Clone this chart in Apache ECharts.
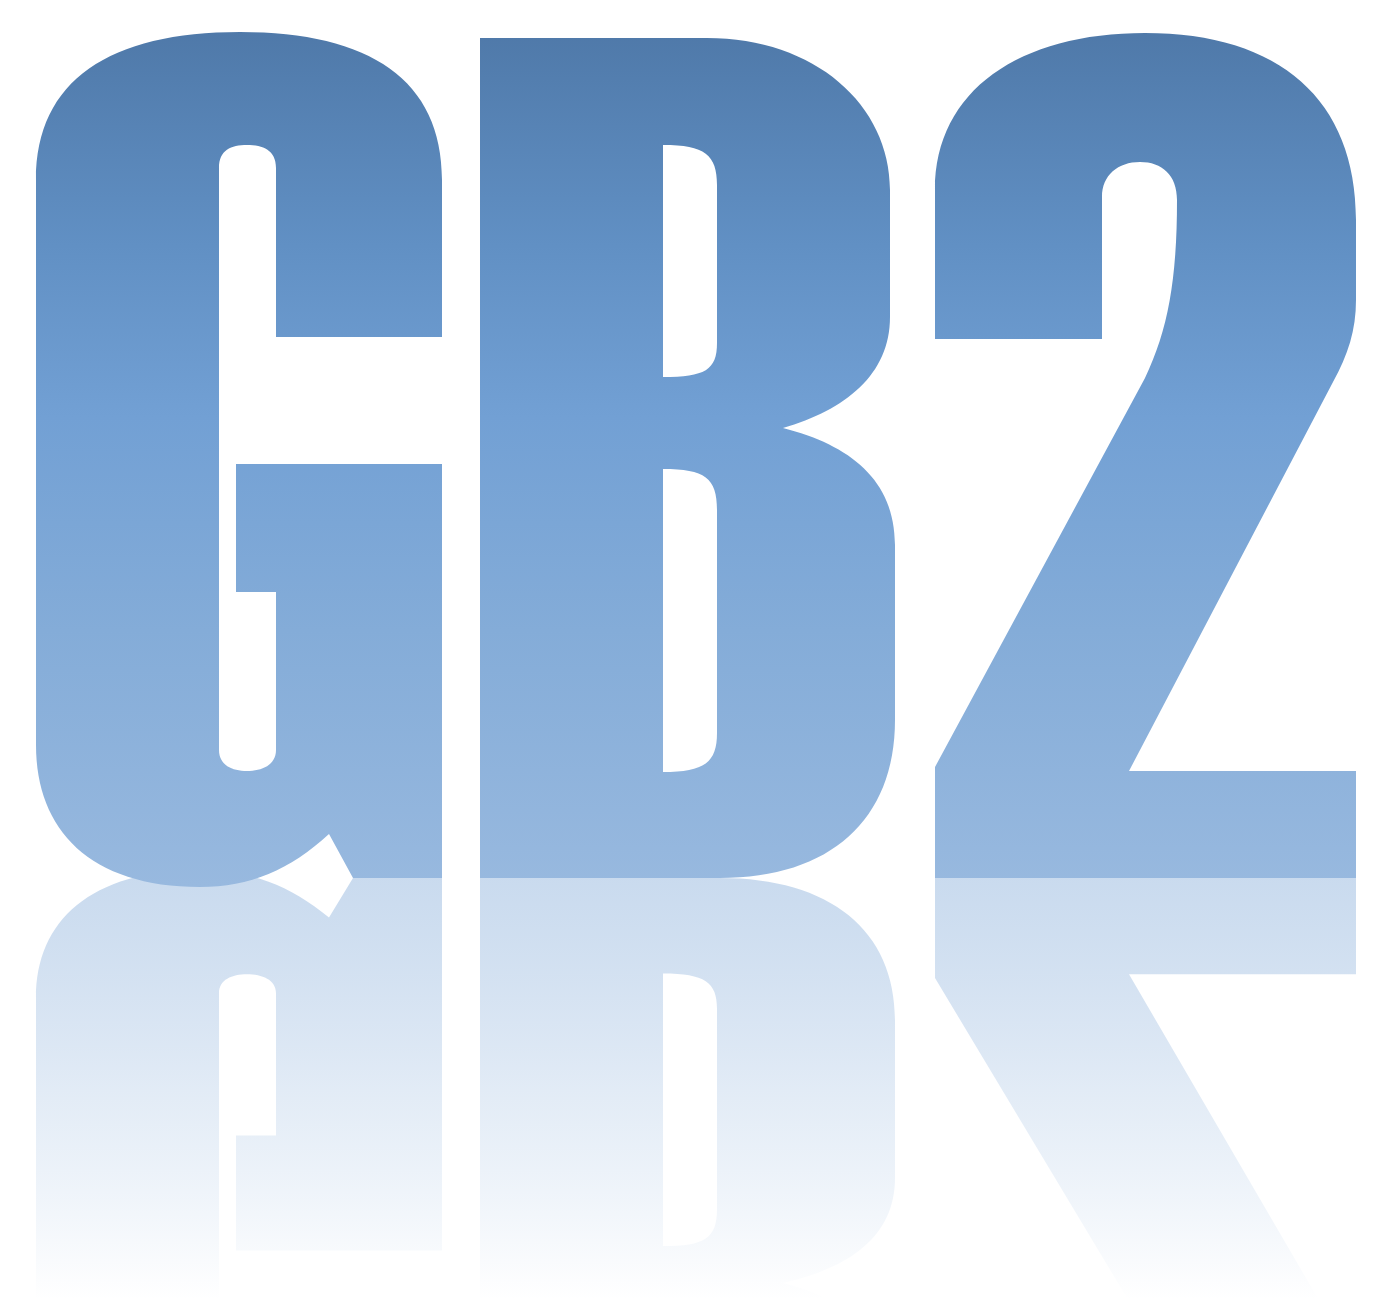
<!DOCTYPE html>
<html>
<head>
<meta charset="utf-8">
<title>GB2</title>
<script src="https://cdn.jsdelivr.net/npm/echarts@6.0.0/dist/echarts.min.js"></script>
<style>
  html, body {margin: 0; padding: 0; background: #ffffff;}
  #chart {width: 1394px; height: 1310px;}
</style>
</head>
<body>
<div id="chart"></div>
<script>
// letter outlines, in the chart's own x/y units (y grows downwards)
// [x, y] = line to, [c1x, c1y, c2x, c2y, x, y] = curve to, first item = move to
const gOutline = [
  [36, 745], [36, 180],
  [36, 80, 110, 32, 240, 32],
  [370, 32, 442, 80, 442, 180],
  [442, 337], [276, 337], [276, 168],
  [276, 150, 263, 145, 247, 145],
  [231, 145, 219, 150, 219, 168],
  [219, 750],
  [219, 765, 232, 771, 247, 771],
  [262, 771, 276, 765, 276, 750],
  [276, 592], [236, 592], [236, 464], [442, 464], [442, 878], [353, 878], [329, 834],
  [290, 870, 250, 887, 200, 887],
  [90, 887, 36, 830, 36, 745],
];

const bOutline = [
  [480, 38], [707, 38],
  [815, 38, 890, 105, 890, 190],
  [890, 317],
  [890, 375, 845, 410, 783, 428],
  [850, 445, 895, 480, 895, 545],
  [895, 720],
  [895, 820, 830, 878, 720, 878],
  [480, 878],
];

const bUpperCounter = [
  [663, 145], [663, 377],
  [705, 377, 717, 370, 717, 343],
  [717, 185],
  [717, 155, 705, 145, 663, 145],
];

const bLowerCounter = [
  [663, 469], [663, 772],
  [705, 772, 717, 762, 717, 733],
  [717, 510],
  [717, 478, 705, 469, 663, 469],
];

const twoOutline = [
  [935, 339], [935, 190],
  [935, 90, 1020, 33, 1145, 33],
  [1280, 33, 1356, 100, 1356, 220],
  [1356, 300],
  [1356, 330, 1348, 355, 1333, 382],
  [1129, 771], [1356, 771], [1356, 878], [935, 878], [935, 767], [1145, 378],
  [1168, 330, 1177, 280, 1177, 200],
  [1177, 175, 1162, 162, 1140, 162],
  [1118, 162, 1102, 175, 1102, 197],
  [1102, 339],
];

const letters = ["G", "B", "2"];
const letterContours = [
  [gOutline],
  [bOutline, bUpperCounter, bLowerCounter],
  [twoOutline],
];

// colour ramp of the letters (top -> baseline) and of the mirror image
const faceRange = [32, 887];
const faceStops = ["#4f79a9", "#6190c4", "#72a0d4", "#84acd8", "#98b9df"];
const faceOffsets = [0, 0.25, 0.45, 0.7, 1];
const baseline = 878;
const mirrorScale = 0.9;
const mirrorRange = [878, 1300];
const mirrorStops = ["rgba(152,185,223,0.52)", "rgba(133,172,217,0.24)", "rgba(114,160,212,0)"];
const mirrorOffsets = [0, 0.5, 1];

function buildPath(contours, api, mapY) {
  let d = "";
  contours.forEach(contour => {
    contour.forEach((seg, i) => {
      const pts = [];
      for (let k = 0; k < seg.length; k += 2) {
        const p = api.coord([seg[k], mapY(seg[k + 1])]);
        pts.push(p[0].toFixed(2) + " " + p[1].toFixed(2));
      }
      if (i === 0) {
        d += "M" + pts[0];
      } else if (seg.length === 2) {
        d += "L" + pts[0];
      } else {
        d += "C" + pts.join(" ");
      }
    });
    d += "Z";
  });
  return d;
}

function makeGradient(api, range, colors, offsets) {
  const y0 = api.coord([0, range[0]])[1];
  const y1 = api.coord([0, range[1]])[1];
  return new echarts.graphic.LinearGradient(0, y0, 0, y1,
    colors.map((c, i) => ({offset: offsets[i], color: c})), true);
}

const chart = echarts.init(document.getElementById("chart"), null, {renderer: "canvas"});

const option = {
  backgroundColor: "#ffffff",
  animation: false,
  grid: {left: 0, right: 0, top: 0, bottom: 0},
  xAxis: {type: "value", min: 0, max: 1394, show: false},
  yAxis: {type: "value", min: 0, max: 1310, inverse: true, show: false},
  series: [
    {
      type: "custom",
      silent: true,
      clip: false,
      data: letters.map((name, i) => ({name: name, value: [i]})),
      renderItem: function (params, api) {
        const contours = letterContours[params.dataIndex];
        const face = buildPath(contours, api, y => y);
        const mirror = buildPath(contours, api, y => baseline + (baseline - y) * mirrorScale);
        return {
          type: "group",
          children: [
            {
              type: "path",
              shape: {pathData: mirror},
              style: {fill: makeGradient(api, mirrorRange, mirrorStops, mirrorOffsets)},
            },
            {
              type: "path",
              shape: {pathData: face},
              style: {fill: makeGradient(api, faceRange, faceStops, faceOffsets)},
            },
          ],
        };
      },
    },
  ],
};

chart.setOption(option);
</script>
</body>
</html>
